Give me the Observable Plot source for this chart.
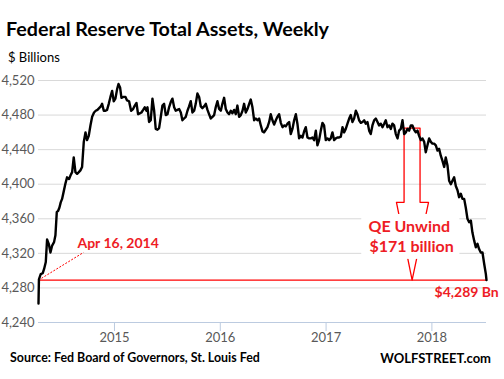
<!DOCTYPE html>
<html><head><meta charset="utf-8">
<script src="https://cdn.jsdelivr.net/npm/d3@7"></script>
<script src="https://cdn.jsdelivr.net/npm/@observablehq/plot@0.6"></script>
<style>
body{margin:0;background:#fff;font-family:Lato,"Open Sans",sans-serif;}
#wrap{position:relative;width:504px;height:379px;overflow:hidden;background:#fff;}
#title{position:absolute;left:6px;top:19px;font-size:19.7px;line-height:1;font-weight:bold;color:#000;white-space:nowrap;}
#sub{position:absolute;left:8px;top:51px;font-size:13px;line-height:1;color:#000;}
#chart{position:absolute;left:0;top:66px;}
#src{position:absolute;left:10px;top:352px;font-size:12.4px;line-height:1;font-weight:bold;color:#000;}
#brand{position:absolute;right:13px;top:352px;font-size:13px;line-height:1;font-weight:bold;color:#000;}
</style></head><body>
<div id="wrap">
<div id="title">Federal Reserve Total Assets, Weekly</div>
<div id="sub">$ Billions</div>
<div id="chart"></div>
<div id="src">Source: Fed Board of Governors, St. Louis Fed</div>
<div id="brand">WOLFSTREET.com</div>
</div>
<script>
// decimal-year dates of the weekly readings
const years = [
2014.282, 2014.286, 2014.303, 2014.322, 2014.335, 2014.351, 2014.363, 2014.379, 2014.395, 2014.411,
2014.429, 2014.442, 2014.455, 2014.467, 2014.480, 2014.492, 2014.505, 2014.521, 2014.537, 2014.552,
2014.571, 2014.584, 2014.600, 2014.615, 2014.631, 2014.647, 2014.663, 2014.678, 2014.694, 2014.710,
2014.726, 2014.741, 2014.757, 2014.773, 2014.789, 2014.807, 2014.823, 2014.839, 2014.855, 2014.871,
2014.883, 2014.899, 2014.915, 2014.930, 2014.946, 2014.962, 2014.978, 2014.993, 2015.009, 2015.025,
2015.038, 2015.053, 2015.066, 2015.085, 2015.104, 2015.119, 2015.138, 2015.157, 2015.176, 2015.192,
2015.208, 2015.223, 2015.239, 2015.255, 2015.271, 2015.286, 2015.302,
2015.312, 2015.327, 2015.343, 2015.359, 2015.375, 2015.390, 2015.406, 2015.422, 2015.438, 2015.453,
2015.469, 2015.485, 2015.501, 2015.516, 2015.532, 2015.548, 2015.564, 2015.579, 2015.595, 2015.611,
2015.627, 2015.642, 2015.658, 2015.674, 2015.690, 2015.705, 2015.721, 2015.737, 2015.753, 2015.768,
2015.784, 2015.800, 2015.816, 2015.831, 2015.847, 2015.863, 2015.879, 2015.894, 2015.910, 2015.926,
2015.942, 2015.957, 2015.973, 2015.989, 2016.005, 2016.020, 2016.036, 2016.052, 2016.068, 2016.083,
2016.099, 2016.115, 2016.131, 2016.146, 2016.162, 2016.178, 2016.194, 2016.210, 2016.225, 2016.241,
2016.257, 2016.273, 2016.288, 2016.304, 2016.320, 2016.336, 2016.351, 2016.367, 2016.383,
2016.399, 2016.414, 2016.430, 2016.446, 2016.462, 2016.477, 2016.493, 2016.509, 2016.525, 2016.540,
2016.556, 2016.572, 2016.588, 2016.603, 2016.619, 2016.635, 2016.651, 2016.666, 2016.682, 2016.698,
2016.714, 2016.729, 2016.745, 2016.761, 2016.777, 2016.792, 2016.808, 2016.824, 2016.840, 2016.855,
2016.871, 2016.887, 2016.903, 2016.918, 2016.934, 2016.950, 2016.966, 2016.981, 2016.997, 2017.013,
2017.029, 2017.044, 2017.060, 2017.076, 2017.092, 2017.107, 2017.123, 2017.139, 2017.155, 2017.170,
2017.186, 2017.202, 2017.218, 2017.233, 2017.249, 2017.265, 2017.281, 2017.296, 2017.312, 2017.328,
2017.344, 2017.360, 2017.375,
2017.391, 2017.407, 2017.422, 2017.438, 2017.454, 2017.470, 2017.486, 2017.501, 2017.517, 2017.533,
2017.549, 2017.564, 2017.580, 2017.596, 2017.612, 2017.627, 2017.643, 2017.659, 2017.675, 2017.690,
2017.706, 2017.722, 2017.738, 2017.753, 2017.769, 2017.785, 2017.801, 2017.816, 2017.832, 2017.848,
2017.864, 2017.879, 2017.895, 2017.911, 2017.927, 2017.942, 2017.958, 2017.974, 2017.990, 2018.005,
2018.021, 2018.037, 2018.053, 2018.068, 2018.084, 2018.100, 2018.116, 2018.131, 2018.147, 2018.163,
2018.179, 2018.194, 2018.210, 2018.226, 2018.242, 2018.257, 2018.273, 2018.289, 2018.305, 2018.320,
2018.336, 2018.352, 2018.368, 2018.383, 2018.399, 2018.415, 2018.431, 2018.446, 2018.462, 2018.478,
2018.494, 2018.510, 2018.516
];
// total assets, $ billions
const assets = [
4262, 4290, 4296, 4297, 4302, 4310, 4336, 4331, 4321, 4329,
4333, 4341, 4368, 4369, 4373, 4379, 4383, 4392, 4401, 4408,
4406, 4410, 4414, 4431, 4414, 4412, 4414, 4416, 4420, 4449,
4460, 4451, 4456, 4468, 4478, 4483, 4485, 4486, 4488, 4490,
4493, 4485, 4485, 4486, 4493, 4501, 4508, 4496, 4499, 4510,
4516, 4512, 4500, 4501, 4501, 4497, 4496, 4485, 4487, 4491,
4494, 4481, 4482, 4483, 4486, 4489, 4485,
4489, 4472, 4474, 4499, 4485, 4464, 4463, 4465, 4478, 4491,
4493, 4480, 4481, 4489, 4495, 4499, 4489, 4485, 4486, 4487,
4483, 4474, 4476, 4478, 4485, 4490, 4496, 4483, 4485, 4493,
4505, 4501, 4490, 4488, 4490, 4493, 4486, 4481, 4476, 4478,
4480, 4489, 4496, 4487, 4485, 4493, 4500, 4487, 4483, 4481,
4485, 4482, 4486, 4481, 4491, 4478, 4480, 4485, 4493, 4483,
4487, 4493, 4498, 4489, 4474, 4476, 4474, 4476, 4468,
4461, 4460, 4463, 4466, 4472, 4481, 4474, 4469, 4474, 4478,
4481, 4471, 4466, 4468, 4467, 4470, 4472, 4458, 4464, 4474,
4481, 4470, 4453, 4456, 4454, 4461, 4466, 4454, 4453, 4453,
4454, 4451, 4462, 4445, 4451, 4462, 4471, 4468, 4451, 4453,
4451, 4453, 4460, 4451, 4453, 4454, 4454, 4455, 4466, 4460,
4464, 4470, 4476, 4480, 4472, 4476, 4485, 4481, 4474, 4471,
4472, 4474, 4470,
4472, 4462, 4458, 4468, 4474, 4476, 4472, 4468, 4470, 4466,
4470, 4474, 4466, 4468, 4464, 4470, 4468, 4458, 4453, 4462,
4464, 4474, 4458, 4460, 4464, 4462, 4468, 4468, 4463, 4460,
4462, 4456, 4451, 4453, 4449, 4437, 4445, 4453, 4449, 4447,
4447, 4445, 4439, 4441, 4433, 4427, 4420, 4431, 4422, 4404,
4400, 4404, 4408, 4398, 4393, 4385, 4389, 4383, 4383, 4373,
4360, 4356, 4358, 4344, 4335, 4327, 4331, 4325, 4321, 4321,
4308, 4296, 4289
];
const yTicks = [4240, 4280, 4320, 4360, 4400, 4440, 4480, 4520];
const xTicks = [2015, 2016, 2017, 2018];

// annotation anchors (data units)
const startLevel = 4289;
const startLabel = "Apr 16, 2014";
const endLabel = "$4,289 Bn";
const qeLabels = ["QE Unwind", "$171 billion"];
const arrowX = [2017.737, 2017.888, 2017.888, 2017.968, 2017.813, 2017.665, 2017.737, 2017.737];
const arrowY = [4465, 4465, 4379, 4379, 4289, 4379, 4379, 4465];

const data = years.map((t, i) => ({t, v: assets[i]}));
const arrow = arrowX.map((t, i) => ({t, v: arrowY[i]}));
const x0 = years[0], x1 = years[years.length - 1];
const red = "#ff0000", redText = "#ee1c25";

const chart = Plot.plot({
  width: 504, height: 284,
  marginTop: 14, marginBottom: 28, marginLeft: 38, marginRight: 18,
  style: {fontFamily: "Lato, 'Open Sans', sans-serif", fontSize: "13px", background: "white", overflow: "visible"},
  x: {domain: [x0, x1]},
  y: {domain: [4240, 4520]},
  marks: [
    Plot.gridY(yTicks, {stroke: "#d9d9d9", strokeOpacity: 1}),
    Plot.ruleY([4240], {stroke: "#bccbe0", strokeWidth: 1.2}),
    Plot.axisY(yTicks, {tickSize: 0, tickPadding: 4, tickFormat: d3.format(","), color: "#595959", fontSize: 13, label: null}),
    Plot.axisX(xTicks, {tickSize: 9, tickPadding: 1, tickFormat: d => String(d), stroke: "#bccbe0", fill: "#595959", fontSize: 13, label: null}),
    Plot.ruleY([startLevel], {x1: x0, x2: x1, stroke: red, strokeWidth: 1.3}),
    Plot.link([startLevel], {x1: x0, y1: startLevel, x2: 2014.707, y2: 4321, stroke: red, strokeWidth: 1, strokeDasharray: "2,1.5"}),
    Plot.line(arrow, {x: "t", y: "v", stroke: red, strokeWidth: 1.3}),
    Plot.rect([0], {x1: 2017.337, x2: 2018.264, y1: 4313, y2: 4365, fill: "white"}),
    Plot.line(data, {x: "t", y: "v", stroke: "#000", strokeWidth: 2.4}),
    Plot.text([startLabel], {x: 2014.650, y: 4331, text: d => d, textAnchor: "start", fill: redText, fontWeight: "bold", fontSize: 14}),
    Plot.text([qeLabels[0]], {x: 2017.786, y: 4351, text: d => d, fill: redText, fontWeight: "bold", fontSize: 16}),
    Plot.text([qeLabels[1]], {x: 2017.808, y: 4327, text: d => d, fill: redText, fontWeight: "bold", fontSize: 16}),
    Plot.text([endLabel], {x: 2018.632, y: 4275, text: d => d, textAnchor: "end", fill: redText, fontWeight: "bold", fontSize: 14})
  ]
});
document.getElementById("chart").appendChild(chart);
</script>
</body></html>
